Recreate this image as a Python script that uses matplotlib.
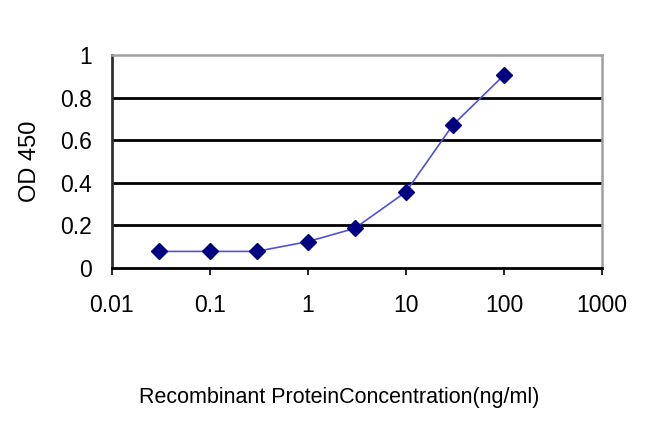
import matplotlib
matplotlib.use("Agg")
import matplotlib.pyplot as plt
from matplotlib.ticker import FixedLocator, NullLocator

# concentration (ng/ml) and OD 450 readings
conc = [0.03, 0.1, 0.3, 1, 3, 10, 30, 100]
od450 = [0.078, 0.078, 0.078, 0.124, 0.186, 0.357, 0.670, 0.905]

x_ticks = [0.01, 0.1, 1, 10, 100, 1000]
x_labels = ["0.01", "0.1", "1", "10", "100", "1000"]
y_ticks = [0, 0.2, 0.4, 0.6, 0.8, 1]
y_labels = ["0", "0.2", "0.4", "0.6", "0.8", "1"]

plt.rcParams['font.family'] = ['Liberation Sans', 'DejaVu Sans']

fig = plt.figure(figsize=(6.5, 4.33), dpi=100)
ax = fig.add_axes([0.172, 0.381, 0.754, 0.492])

ax.set_xscale('log')
ax.set_xlim(0.01, 1000)
ax.set_ylim(0, 1)

# horizontal grid lines
for yv in y_ticks[1:-1]:
    ax.axhline(yv, color='black', lw=2.0, zorder=1)

ax.plot(conc, od450, color='#5050d8', lw=1.2, zorder=2)
ax.plot(conc, od450, ls='none', marker='D', ms=8, color='#000080', zorder=3)

ax.xaxis.set_major_locator(FixedLocator(x_ticks))
ax.xaxis.set_minor_locator(NullLocator())
ax.set_xticks(x_ticks)
ax.set_xticklabels(x_labels, fontsize=16.5)
ax.set_yticks(y_ticks)
ax.set_yticklabels(y_labels, fontsize=16.5)
ax.tick_params(axis='x', direction='out', length=5, width=1.2, pad=14, color='black')
ax.tick_params(axis='y', length=0, pad=14)

for side in ['top', 'right']:
    ax.spines[side].set_color('#a0a0a0')
    ax.spines[side].set_linewidth(1.8)
ax.spines['left'].set_color('#303030')
ax.spines['left'].set_linewidth(2.0)
ax.spines['bottom'].set_color('black')
ax.spines['bottom'].set_linewidth(2.0)

ax.set_ylabel("OD 450", fontsize=17, labelpad=14)
fig.text(339 / 650, 1 - 398 / 433, "Recombinant ProteinConcentration(ng/ml)",
         ha='center', va='center', fontsize=15.5)

fig.savefig("out.png", dpi=100)
